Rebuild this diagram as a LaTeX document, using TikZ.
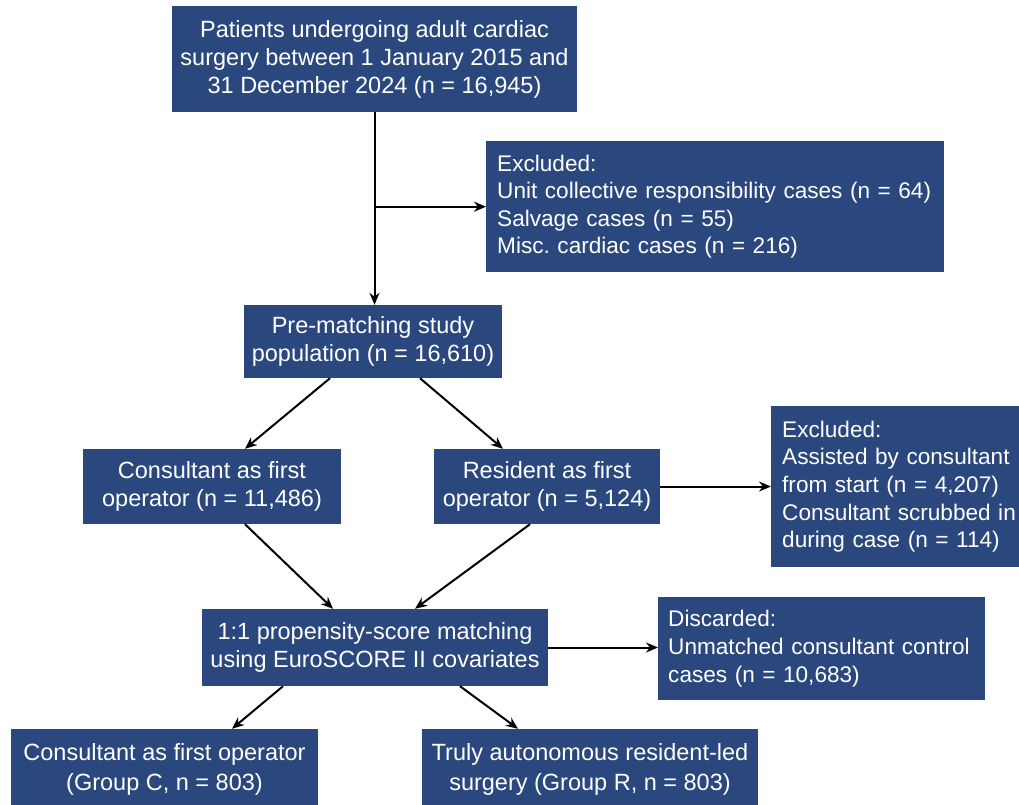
\documentclass[tikz,border=0pt]{standalone}
\usepackage{fontspec}
\setmainfont{Liberation Sans}
\usetikzlibrary{arrows.meta}
\definecolor{boxblue}{RGB}{42,72,125}
\newcommand\oneline[1]{\mbox{#1}}
\frenchspacing
\begin{document}
\begin{tikzpicture}[x=1pt,y=-1pt,
 box/.style={fill=boxblue,text=white,font=\fontsize{23.5}{28}\selectfont,inner sep=0pt,align=center},
 lbox/.style={box,align=left,anchor=north west,font=\fontsize{22.6}{27.6}\selectfont},
 arr/.style={-{Stealth[length=12pt,width=10pt]},line width=2pt}]
\useasboundingbox[fill=white] (0,0) rectangle (1019,805);
\node[box,minimum width=405pt,minimum height=106pt] (top) at (374.5,59)
 {Patients undergoing adult cardiac\\surgery between 1 January 2015 and\\31 December 2024 (n = 16,945)};
\node[lbox,minimum width=458pt,minimum height=131pt,text width=436pt] (excl) at (486,141)
 {\oneline{Excluded:}\\\oneline{Unit collective responsibility cases (n = 64)}\\\oneline{Salvage cases (n = 55)}\\\oneline{Misc. cardiac cases (n = 216)}};
\node[box,minimum width=258pt,minimum height=73pt] (pre) at (373,341.5)
 {Pre-matching study\\population (n = 16,610)};
\node[box,minimum width=258pt,minimum height=75pt] (cons) at (212,486.5)
 {Consultant as first\\operator (n = 11,486)};
\node[box,minimum width=226pt,minimum height=75pt] (res) at (547,486.5)
 {Resident as first\\operator (n = 5,124)};
\node[lbox,minimum width=262pt,minimum height=161pt,text width=240pt] (ex2) at (771,406)
 {\oneline{Excluded:}\\\oneline{Assisted by consultant}\\\oneline{from start (n = 4,207)}\\\oneline{Consultant scrubbed in}\\\oneline{during case (n = 114)}};
\node[box,minimum width=346pt,minimum height=77pt] (prop) at (375,647.5)
 {1:1 propensity-score matching\\using EuroSCORE II covariates};
\node[lbox,minimum width=327pt,minimum height=103pt,text width=307pt] (disc) at (658,597)
 {\oneline{Discarded:}\\\oneline{Unmatched consultant control}\\\oneline{cases (n = 10,683)}};
\node[box,minimum width=307pt,minimum height=80pt,font=\fontsize{23.5}{30}\selectfont] (grpC) at (164.5,769)
 {Consultant as first operator\\(Group C, n = 803)};
\node[box,minimum width=336pt,minimum height=80pt,font=\fontsize{23.5}{30}\selectfont] (grpR) at (590,769)
 {Truly autonomous resident-led\\surgery (Group R, n = 803)};
\draw[arr] (top.south) -- (top.south |- pre.north);
\draw[arr] (top.south |- excl.west) -- (excl.west);
\draw[arr] ([xshift=-43pt]pre.south) -- ([xshift=33pt]cons.north);
\draw[arr] ([xshift=47pt]pre.south) -- ([xshift=-44pt]res.north);
\draw[arr] ([xshift=33pt]cons.south) -- ([xshift=-42pt]prop.north);
\draw[arr] ([xshift=-17pt]res.south) -- ([xshift=40pt]prop.north);
\draw[arr] (res.east) -- (res.east -| ex2.west);
\draw[arr] (prop.east) -- (prop.east -| disc.west);
\draw[arr] ([xshift=-92pt]prop.south) -- ([xshift=67.5pt]grpC.north);
\draw[arr] ([xshift=85pt]prop.south) -- ([xshift=-72pt]grpR.north);
\end{tikzpicture}
\end{document}
